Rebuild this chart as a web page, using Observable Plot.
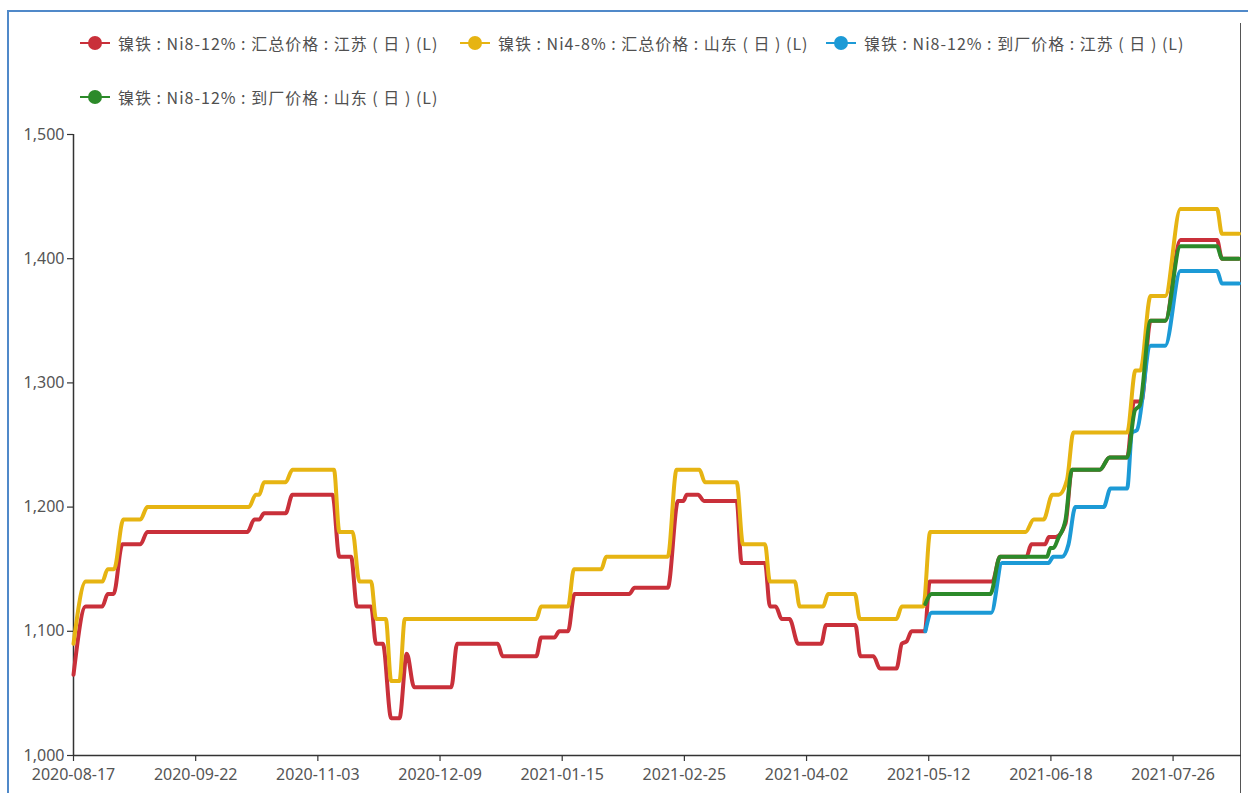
<!DOCTYPE html>
<html><head><meta charset="utf-8">
<script src="https://cdn.jsdelivr.net/npm/d3@7"></script>
<script src="https://cdn.jsdelivr.net/npm/@observablehq/plot@0.6"></script>
<style>
body{margin:0;background:#fff;width:1248px;height:793px;overflow:hidden;position:relative;font-family:"Noto Sans CJK SC","Noto Sans",sans-serif;}
#frame{position:absolute;left:7px;top:10px;width:1241px;height:783px;border-left:2px solid #5089c9;border-top:2px solid #5089c9;box-sizing:border-box;}
#rline{position:absolute;left:1240px;top:23px;width:0;height:770px;border-left:1.5px solid #555;}
.item{position:absolute;display:flex;align-items:center;height:22px;font-size:16px;letter-spacing:1px;color:#505050;white-space:pre;}
.mk{position:relative;width:30px;height:14px;margin-right:8px;}
.mk .ln{position:absolute;left:0;top:6px;width:30px;height:2px;}
.mk .dt{position:absolute;left:8px;top:0;width:14px;height:14px;border-radius:50%;}
#chart{position:absolute;left:0;top:120px;}
</style></head><body>
<div id="frame"></div>
<div id="rline"></div>
<div id="legend"></div>
<div id="chart"></div>
<script>
// x axis: trading-day index; tick labels every 25 trading days
const tickLabels = ["2020-08-17","2020-09-22","2020-11-03","2020-12-09","2021-01-15","2021-02-25","2021-04-02","2021-05-12","2021-06-18","2021-07-26"];
const tickStep = 25;
const yTicks = [1000,1100,1200,1300,1400,1500];

const seriesNames = [
  "镍铁 : Ni8-12% : 汇总价格 : 江苏 ( 日 ) (L)",
  "镍铁 : Ni4-8% : 汇总价格 : 山东 ( 日 ) (L)",
  "镍铁 : Ni8-12% : 到厂价格 : 江苏 ( 日 ) (L)",
  "镍铁 : Ni8-12% : 到厂价格 : 山东 ( 日 ) (L)"
];
const seriesColors = ["#c9303a","#e6b412","#1c9ad6","#2c8a2a"];

// [trading-day index, price]
const redPts = [[0,1065],[2.5,1120],[5.9,1120],[7,1130],[8.2,1130],[10,1170],[13.7,1170],[15.1,1180],[35.6,1180],[37,1190],[38,1190],[39,1195],[43.4,1195],[44.8,1210],[53,1210],[54.4,1160],[56.8,1160],[58,1120],[60.9,1120],[61.9,1090],[63.3,1090],[65,1030],[66.7,1030],[68.2,1082],[69.7,1055],[77.3,1055],[78.5,1090],[86.8,1090],[87.8,1080],[94.7,1080],[95.7,1095],[98.4,1095],[99.4,1100],[101.2,1100],[102.5,1130],[113.7,1130],[114.8,1135],[121.6,1135],[123.7,1205],[124.8,1205],[125.5,1210],[127.8,1210],[129,1205],[135.7,1205],[136.7,1155],[141.5,1155],[142.5,1120],[143.7,1120],[144.9,1110],[146.5,1110],[148.3,1090],[153,1090],[154,1105],[160,1105],[161,1080],[163.7,1080],[165,1070],[168.4,1070],[169.5,1090],[170.5,1092],[171.5,1100],[174.2,1100],[175.2,1140],[188,1140],[189.6,1160],[195,1160],[196,1170],[198.8,1170],[199.6,1176],[201,1176],[203,1187],[204.3,1230],[210,1230],[212,1240],[215.6,1240],[217,1285],[218.5,1285],[220.4,1350],[223.4,1350],[226.5,1415],[234,1415],[235,1400],[238.5,1400]];
const yellowPts = [[0,1090],[2.5,1140],[5.9,1140],[7,1150],[8.3,1150],[10.2,1190],[13.7,1190],[15.1,1200],[35.9,1200],[37.3,1210],[38,1210],[39,1220],[43.4,1220],[44.8,1230],[53.3,1230],[54.4,1180],[57.1,1180],[58.5,1140],[60.9,1140],[61.9,1110],[63.9,1110],[65,1060],[66.7,1060],[67.8,1110],[94.7,1110],[95.7,1120],[101.2,1120],[102.4,1150],[108,1150],[109,1160],[121.6,1160],[123.4,1230],[128.1,1230],[129.2,1220],[135.7,1220],[137,1170],[141.5,1170],[142.5,1140],[147.6,1140],[148.6,1120],[153.4,1120],[154.4,1130],[159.9,1130],[160.9,1110],[168.4,1110],[169.5,1120],[173.9,1120],[175.3,1180],[194.8,1180],[196.5,1190],[198.5,1190],[200.3,1210],[201.6,1210],[203.3,1222],[204.6,1260],[215.6,1260],[217.3,1310],[218.3,1310],[220.4,1370],[223.4,1370],[226.5,1440],[234,1440],[235,1420],[238.5,1420]];
const bluePts = [[174.3,1100],[175.6,1115],[187.8,1115],[190,1155],[199.5,1155],[200.5,1160],[202.3,1160],[203.6,1170],[205,1200],[210.8,1200],[212.2,1215],[215.6,1215],[216.6,1260],[217.6,1262],[220.4,1330],[223.4,1330],[226.5,1390],[234,1390],[235,1380],[238.5,1380]];
const greenPts = [[174.3,1122],[175.6,1130],[187.6,1130],[189.6,1160],[199.2,1160],[199.9,1167],[200.5,1167],[201.5,1175],[203,1190],[204.3,1230],[210,1230],[212,1240],[215.6,1240],[217.2,1278],[218.2,1282],[220.4,1350],[223.4,1350],[226.5,1410],[234,1410],[235,1400],[238.5,1400]];

const allPts = [redPts, yellowPts, bluePts, greenPts];
const rows = allPts.flatMap((pts, k) => pts.map(([i, v]) => ({i, v, s: seriesNames[k]})));

// legend
const legend = document.getElementById("legend");
const legendPos = [[80,32],[460,32],[826,32],[80,86]];
seriesNames.forEach((name, k) => {
  const it = document.createElement("div");
  it.className = "item";
  it.style.left = legendPos[k][0] + "px";
  it.style.top = legendPos[k][1] + "px";
  it.innerHTML = `<div class="mk"><div class="ln" style="background:${seriesColors[k]}"></div><div class="dt" style="background:${seriesColors[k]}"></div></div><span>${name}</span>`;
  legend.appendChild(it);
});

const fmt = d3.format(",");
const chart = Plot.plot({
  width: 1248, height: 673,
  marginLeft: 73, marginRight: 7, marginTop: 14, marginBottom: 38,
  style: {fontFamily: '"Noto Sans", "Noto Sans CJK SC", sans-serif', fontSize: "16px", background: "transparent", overflow: "visible"},
  x: {domain: [0, 239]},
  y: {domain: [1000, 1500]},
  color: {domain: seriesNames, range: seriesColors},
  marks: [
    Plot.axisX(tickLabels.map((_, k) => k * tickStep), {tickFormat: d => tickLabels[Math.round(d / tickStep)], tickSize: 6, tickPadding: 7, stroke: "#333", fill: "#555", strokeWidth: 1.2, label: null}),
    Plot.axisY(yTicks, {tickFormat: fmt, tickSize: 6, tickPadding: 3, stroke: "#333", fill: "#555", strokeWidth: 1.2, label: null}),
    Plot.ruleX([0], {stroke: "#333", strokeWidth: 1.5}),
    Plot.ruleY([1000], {stroke: "#333", strokeWidth: 1.5}),
    Plot.line(rows, {x: "i", y: "v", z: "s", stroke: "s", strokeWidth: 4, curve: "monotone-x", strokeLinejoin: "round"})
  ]
});
document.getElementById("chart").appendChild(chart);
</script>
</body></html>
